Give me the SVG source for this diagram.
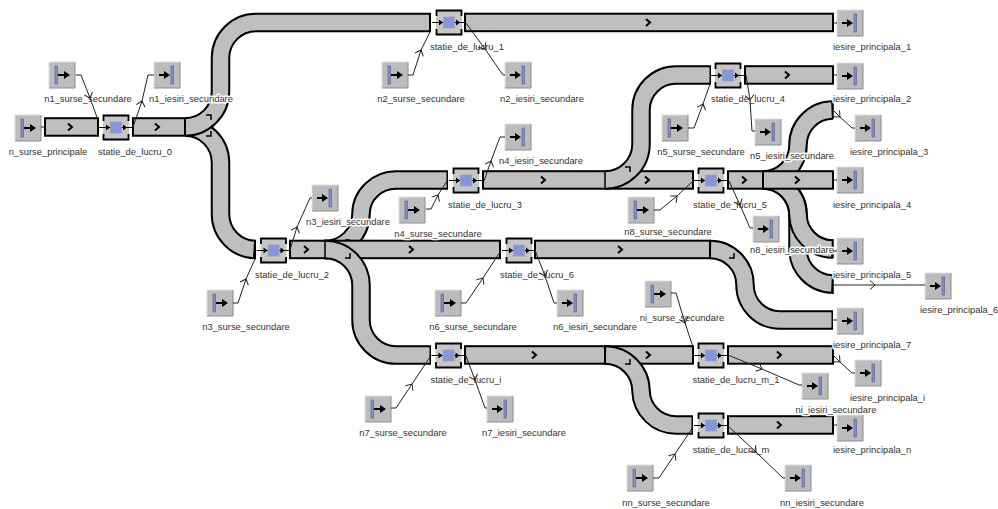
<svg xmlns="http://www.w3.org/2000/svg" width="998" height="509" viewBox="0 0 998 509">
<style>
.bk{fill:none;stroke:#000;stroke-width:19.5}
.gy{fill:none;stroke:#bfbfbf;stroke-width:15.5}
.bar{fill:#bfbfbf;stroke:#000;stroke-width:2}
.chev{fill:none;stroke:#000;stroke-width:2}
.mk{fill:none;stroke:#000;stroke-width:1.5}
.wire{fill:none;stroke:#222;stroke-width:1;marker-mid:url(#open)}
.stub{fill:none;stroke:#222;stroke-width:1}
text{font-family:"Liberation Sans",Arial,sans-serif;font-size:9.4px;fill:#333;text-anchor:middle;paint-order:stroke;stroke:#fff;stroke-width:3px;stroke-linejoin:round}
text.l{text-anchor:start}
</style>
<defs>
<marker id="open" markerUnits="userSpaceOnUse" markerWidth="12" markerHeight="12" refX="6" refY="6" orient="auto" overflow="visible"><path d="M1,1.5L6,6L1,10.5" fill="none" stroke="#222" stroke-width="1"/></marker>
<g id="src"><rect width="26" height="26" fill="#bcbcbc"/><path d="M0,26V0H26" fill="none" stroke="#dedede"/><path d="M0,26H26V0" fill="none" stroke="#8c8c8c"/><rect x="6" y="4" width="2.5" height="18" fill="#7f8fd0" stroke="#555a80" stroke-width=".6"/><path d="M9,13H16" stroke="#000" stroke-width="2"/><path d="M15,9L21,13L15,17Z" fill="#000"/></g>
<g id="snk"><rect width="26" height="26" fill="#bcbcbc"/><path d="M0,26V0H26" fill="none" stroke="#dedede"/><path d="M0,26H26V0" fill="none" stroke="#8c8c8c"/><rect x="17" y="4" width="2.5" height="18" fill="#7f8fd0" stroke="#555a80" stroke-width=".6"/><path d="M5,13H11" stroke="#000" stroke-width="2"/><path d="M10,9L16,13L10,17Z" fill="#000"/></g>
<g id="stn"><rect x="-13" y="-12.5" width="26" height="25" fill="#c6c6c6"/><path d="M-12.5,-6.5V-12H12.5V-6.5M-12.5,6.5V12H12.5V6.5" fill="none" stroke="#000" stroke-width="1.8"/><path d="M-17,0H17" stroke="#111" stroke-width="1"/><rect x="-5.5" y="-5.5" width="11" height="11" fill="#8496dc" stroke="#9aa0b8" stroke-width=".8"/><path d="M-10,-3L-6,0L-10,3ZM7,-3L11,0L7,3Z" fill="#000"/></g>
<path id="c" class="chev" d="M-2,-3.5L2,0L-2,3.5"/>
<path id="m1" class="mk" d="M-5,-4H0V1"/>
<path id="m2" class="mk" d="M-5,0H0V-5"/>
</defs>

<g id="connectors">
<path class="bk" d="M185 127A35.5 35.5 0 0 1 220.5 162.5V214A35.5 35.5 0 0 0 256 249.5H255"/><path class="gy" d="M185 127A35.5 35.5 0 0 1 220.5 162.5V214A35.5 35.5 0 0 0 253.5 249.5"/>
<path class="bk" d="M185 127A35.5 35.5 0 0 0 220.5 91.5V58A35.5 35.5 0 0 1 256 22.5H431"/><path class="gy" d="M185 127A35.5 35.5 0 0 0 220.5 91.5V58A35.5 35.5 0 0 1 256 22.5H429"/>
<use href="#m1" x="211" y="119"/><use href="#m2" x="211" y="136"/>
<rect class="bar" x="45" y="118.2" width="53" height="17.5"/><use href="#c" x="70" y="127"/>
<rect class="bar" x="133" y="118.2" width="52" height="17.5"/><use href="#c" x="157" y="127"/>
<rect class="bar" x="465" y="13.7" width="368" height="17.5"/><use href="#c" x="648" y="22.5"/>
<rect class="bar" x="290" y="240.7" width="35" height="17.5"/><use href="#c" x="306" y="249.5"/>
<path class="bk" d="M325 249.5A36 36 0 0 0 361 214A35 34 0 0 1 396 180H448"/><path class="gy" d="M325 249.5A36 36 0 0 0 361 214A35 34 0 0 1 396 180H446.5"/>
<rect class="bar" x="325" y="240.7" width="175" height="17.5"/><use href="#c" x="411" y="249.5"/>
<path class="mk" d="M345 240H350"/>
<path class="bk" d="M325 249.5A36 36 0 0 1 361 286V320A35 35 0 0 0 396 355H431"/><path class="gy" d="M324 249.5A36 36 0 0 1 361 286V320A35 35 0 0 0 396 355H429.5"/>
<path class="mk" d="M325 241V258" /><use href="#m2" x="350" y="258"/>
<rect class="bar" x="483" y="171.2" width="122" height="17.5"/><use href="#c" x="543" y="180"/>
<rect class="bar" x="605" y="171.2" width="88" height="17.5"/><use href="#c" x="647" y="180"/>
<path class="bk" d="M605 180A36 36 0 0 0 641 144V110A35 35 0 0 1 676 75H711"/><path class="gy" d="M604 180A36 36 0 0 0 641 144V110A35 35 0 0 1 676 75H709.5"/>
<path class="mk" d="M605 171V189"/><use href="#m1" x="630" y="171"/>
<rect class="bar" x="745" y="66.2" width="88" height="17.5"/><use href="#c" x="787" y="75"/>
<path class="bk" d="M763 180A35 35 0 0 1 798 215V249A35 35 0 0 0 833 284"/><path class="gy" d="M763 180A35 35 0 0 1 798 215V249A35 35 0 0 0 831.5 284"/>
<path class="bk" d="M763 180A35 35 0 0 0 798 145A35 35 0 0 1 833 110"/><path class="gy" d="M763 180A35 35 0 0 0 798 145A35 35 0 0 1 831.5 110"/>
<path class="bk" d="M763 180A35 35 0 0 1 798 215A35 35 0 0 0 833 249"/><path class="gy" d="M763 180A35 35 0 0 1 798 215A35 35 0 0 0 831.5 249"/>
<path class="mk" d="M833 101V119M833 239V258M833 275V294"/>
<rect class="bar" x="728" y="171.2" width="35" height="17.5"/><use href="#c" x="744" y="180"/>
<rect class="bar" x="763" y="171.2" width="70" height="17.5"/><use href="#c" x="797" y="180"/>
<rect class="bar" x="535" y="240.7" width="175" height="17.5"/><use href="#c" x="620" y="249.5"/>
<path class="bk" d="M710 249.5A35 35 0 0 1 745 285A35 35 0 0 0 780 320H833"/><path class="gy" d="M711 249.5A35 35 0 0 1 745 285A35 35 0 0 0 780 320H831.5"/>
<path class="mk" d="M710 241V258"/><use href="#m2" x="734" y="258"/>
<rect class="bar" x="465" y="346.2" width="140" height="17.5"/><use href="#c" x="534" y="355"/>
<rect class="bar" x="605" y="346.2" width="88" height="17.5"/><use href="#c" x="648" y="355"/>
<path class="bk" d="M605 355A36 36 0 0 1 641 391A35 35 0 0 0 676 425H693"/><path class="gy" d="M606 355A36 36 0 0 1 641 391A35 35 0 0 0 676 425H691.5"/>
<path class="mk" d="M605 346V364"/><use href="#m2" x="630" y="364"/>
<rect class="bar" x="728" y="346.2" width="105" height="17.5"/><use href="#c" x="779" y="355"/>
<rect class="bar" x="728" y="416.2" width="105" height="17.5"/><use href="#c" x="779" y="425"/>
</g>

<g id="n_surse_principale"><use href="#src" x="15" y="115"/><text x="48" y="155">n_surse_principale</text></g>
<g id="statie_de_lucru_0"><use href="#stn" x="116" y="127.5"/><text x="135" y="155">statie_de_lucru_0</text></g>
<g id="n1_surse_secundare"><use href="#src" x="49" y="62"/><text x="88" y="102">n1_surse_secundare</text></g>
<g id="n1_iesiri_secundare"><use href="#snk" x="154" y="62"/><text x="191" y="102">n1_iesiri_secundare</text></g>
<g id="statie_de_lucru_1"><use href="#stn" x="449" y="22.5"/><text x="467" y="50">statie_de_lucru_1</text></g>
<g id="n2_surse_secundare"><use href="#src" x="382" y="62"/><text x="421" y="102">n2_surse_secundare</text></g>
<g id="n2_iesiri_secundare"><use href="#snk" x="505" y="62"/><text x="542" y="102">n2_iesiri_secundare</text></g>
<g id="iesire_principala_1"><use href="#snk" x="837" y="10"/><text class="l" x="833" y="50">iesire_principala_1</text></g>
<g id="statie_de_lucru_2"><use href="#stn" x="273.5" y="250.5"/><text x="292" y="278">statie_de_lucru_2</text></g>
<g id="n3_surse_secundare"><use href="#src" x="207" y="290"/><text x="246" y="330">n3_surse_secundare</text></g>
<g id="n3_iesiri_secundare"><use href="#snk" x="312" y="185"/><text x="348" y="225">n3_iesiri_secundare</text></g>
<g id="statie_de_lucru_3"><use href="#stn" x="466" y="180.5"/><text x="485" y="208">statie_de_lucru_3</text></g>
<g id="n4_surse_secundare"><use href="#src" x="399" y="197"/><text x="438" y="237">n4_surse_secundare</text></g>
<g id="n4_iesiri_secundare"><use href="#snk" x="505" y="124"/><text x="541" y="164">n4_iesiri_secundare</text></g>
<g id="statie_de_lucru_4"><use href="#stn" x="728" y="75.5"/><text x="748" y="102">statie_de_lucru_4</text></g>
<g id="n5_surse_secundare"><use href="#src" x="662" y="115"/><text x="701" y="155">n5_surse_secundare</text></g>
<g id="n5_iesiri_secundare"><use href="#snk" x="755" y="119"/><text x="792" y="159">n5_iesiri_secundare</text></g>
<g id="iesire_principala_2"><use href="#snk" x="837" y="63"/><text class="l" x="833" y="102">iesire_principala_2</text></g>
<g id="iesire_principala_3"><use href="#snk" x="855" y="115"/><text class="l" x="850" y="155">iesire_principala_3</text></g>
<g id="statie_de_lucru_5"><use href="#stn" x="711" y="180.5"/><text x="730" y="208">statie_de_lucru_5</text></g>
<g id="n8_surse_secundare"><use href="#src" x="628" y="197"/><text x="668" y="235">n8_surse_secundare</text></g>
<g id="n8_iesiri_secundare"><use href="#snk" x="753" y="216"/><text x="792" y="253">n8_iesiri_secundare</text></g>
<g id="iesire_principala_4"><use href="#snk" x="837" y="167"/><text class="l" x="833" y="208">iesire_principala_4</text></g>
<g id="iesire_principala_5"><use href="#snk" x="837" y="238"/><text class="l" x="833" y="278">iesire_principala_5</text></g>
<g id="iesire_principala_6"><use href="#snk" x="925" y="273"/><text class="l" x="920" y="313">iesire_principala_6</text></g>
<g id="iesire_principala_7"><use href="#snk" x="837" y="308"/><text class="l" x="833" y="348">iesire_principala_7</text></g>
<g id="statie_de_lucru_6"><use href="#stn" x="519" y="250.5"/><text x="537" y="278">statie_de_lucru_6</text></g>
<g id="n6_surse_secundare"><use href="#src" x="435" y="290"/><text x="473" y="330">n6_surse_secundare</text></g>
<g id="n6_iesiri_secundare"><use href="#snk" x="557" y="290"/><text x="595" y="330">n6_iesiri_secundare</text></g>
<g id="statie_de_lucru_i"><use href="#stn" x="448.5" y="355.5"/><text x="466" y="383">statie_de_lucru_i</text></g>
<g id="n7_surse_secundare"><use href="#src" x="365" y="396"/><text x="403" y="436">n7_surse_secundare</text></g>
<g id="n7_iesiri_secundare"><use href="#snk" x="487" y="396"/><text x="524" y="436">n7_iesiri_secundare</text></g>
<g id="statie_de_lucru_m_1"><use href="#stn" x="711" y="355.5"/><text x="736" y="383">statie_de_lucru_m_1</text></g>
<g id="ni_surse_secundare"><use href="#src" x="645" y="281"/><text x="682" y="321">ni_surse_secundare</text></g>
<g id="ni_iesiri_secundare"><use href="#snk" x="802" y="373"/><text x="836" y="413">ni_iesiri_secundare</text></g>
<g id="iesire_principala_i"><use href="#snk" x="855" y="360"/><text class="l" x="850" y="401">iesire_principala_i</text></g>
<g id="statie_de_lucru_m"><use href="#stn" x="711" y="425.5"/><text x="731" y="453">statie_de_lucru_m</text></g>
<g id="nn_surse_secundare"><use href="#src" x="627" y="465"/><text x="666" y="506">nn_surse_secundare</text></g>
<g id="nn_iesiri_secundare"><use href="#snk" x="785" y="465"/><text x="822" y="506">nn_iesiri_secundare</text></g>
<g id="iesire_principala_n"><use href="#snk" x="837" y="415"/><text class="l" x="833" y="453">iesire_principala_n</text></g>

<g id="wires">
<path class="stub" d="M41 127H45M833 23H837M833 75H837M833 180H837M833 251H837M833 320H837M833 425H837"/>
<path class="stub" d="M76 75H81M148 75H154M408 75H413M503 75H505M233 303H238M310 198H312M426 209H431M500 137H505M688 128H694M752 131H755M654 210H660M750 228H753M852 128H855M461 303H466M554 303H557M391 408H396M485 408H487M671 293H676M799 385H802M852 373H855M653 478H659M783 478H785"/>
<polyline class="wire" points="81,75 90,98 98,120"/>
<polyline class="wire" points="133,127 142,101 148,75"/>
<polyline class="wire" points="413,75 421,50 430,32"/>
<polyline class="wire" points="466,23 485,49 503,75"/>
<polyline class="wire" points="238,303 246,279 255,259"/>
<polyline class="wire" points="290,250 297,227 310,198"/>
<polyline class="wire" points="431,209 438,195 447,181"/>
<polyline class="wire" points="484,181 491,161 500,137"/>
<polyline class="wire" points="694,128 703,104 710,84"/>
<polyline class="wire" points="746,75 750,100 752,131"/>
<polyline class="wire" points="660,210 677,196 693,181"/>
<polyline class="wire" points="729,181 740,205 750,228"/>
<polyline class="wire" points="834,111 840,117 852,128"/>
<polyline class="wire" points="833,285 875,285 925,285"/>
<polyline class="wire" points="466,303 483,278 500,252"/>
<polyline class="wire" points="535,250 545,276 554,303"/>
<polyline class="wire" points="396,408 412,384 430,357"/>
<polyline class="wire" points="466,356 475,380 485,408"/>
<polyline class="wire" points="676,293 685,323 693,347"/>
<polyline class="wire" points="728,355 762,369 799,385"/>
<polyline class="wire" points="834,356 840,362 852,373"/>
<polyline class="wire" points="659,478 675,454 693,427"/>
<polyline class="wire" points="728,426 756,452 783,478"/>
</g>
</svg>
